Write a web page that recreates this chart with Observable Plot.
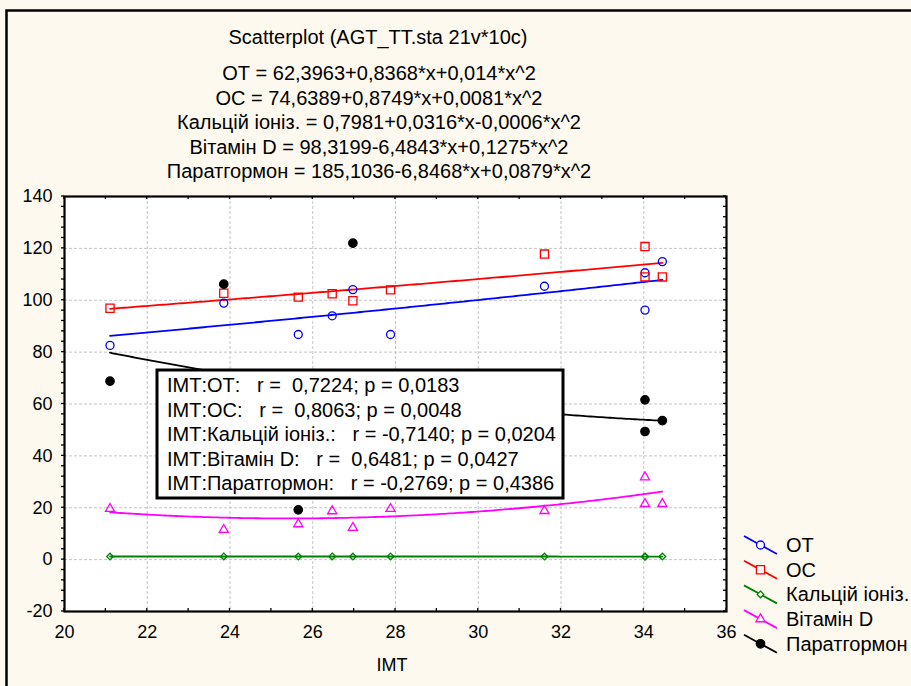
<!DOCTYPE html>
<html><head><meta charset="utf-8">
<script src="https://cdn.jsdelivr.net/npm/d3@7"></script>
<script src="https://cdn.jsdelivr.net/npm/@observablehq/plot@0.6"></script>
<style>
body{margin:0;background:#fdf9ee;}
#chart svg{display:block;}
</style>
</head><body><div id="chart"></div>
<script>
// ---- data ----
const imt   = [21.1, 23.85, 25.65, 26.47, 26.97, 27.88, 31.6, 34.03, 34.03, 34.45];
const ot    = [82.6, 98.9, 86.8, 94.0, 104.1, 86.8, 105.4, 96.2, 110.6, 114.9];
const oc    = [96.9, 102.7, 101.2, 102.5, 99.8, 104.0, 117.8, 120.7, 109.0, 109.0];
const ca    = [1.20, 1.22, 1.18, 1.25, 1.20, 1.22, 1.17, 1.15, 1.18, 1.20];
const vitD  = [19.6, 11.5, 13.7, 18.7, 12.3, 19.6, 18.8, 31.8, 21.5, 21.5];
const pth   = [68.8, 106.2, 19.2, 58, 122.0, 64, 47, 61.6, 49.4, 53.6];

const seriesNames = ["ОТ", "ОС", "Кальцій іоніз.", "Вітамін D", "Паратгормон"];
// quadratic fit coefficients as printed in the chart (a + b*x + c*x^2)
const coefOT   = [62.3963, 0.8368, 0.014];
const coefOC   = [74.6389, 0.8749, 0.0081];
const coefCa   = [0.7981, 0.0316, -0.0006];
const coefVitD = [98.3199, -6.4843, 0.1275];
const coefPTH  = [185.1036, -6.8468, 0.0879];

const titleText = "Scatterplot (AGT_TT.sta 21v*10c)";
const equations = [
  "ОТ = 62,3963+0,8368*x+0,014*x^2",
  "ОС = 74,6389+0,8749*x+0,0081*x^2",
  "Кальцій іоніз. = 0,7981+0,0316*x-0,0006*x^2",
  "Вітамін D = 98,3199-6,4843*x+0,1275*x^2",
  "Паратгормон = 185,1036-6,8468*x+0,0879*x^2"
];
const corrLines = [
  "ІМТ:ОТ:   r =  0,7224; p = 0,0183",
  "ІМТ:ОС:   r =  0,8063; p = 0,0048",
  "ІМТ:Кальцій іоніз.:   r = -0,7140; p = 0,0204",
  "ІМТ:Вітамін D:   r =  0,6481; p = 0,0427",
  "ІМТ:Паратгормон:   r = -0,2769; p = 0,4386"
];
const xTicks = [20, 22, 24, 26, 28, 30, 32, 34, 36];
const yTicks = [-20, 0, 20, 40, 60, 80, 100, 120, 140];
const xLabel = "ІМТ";

// ---- build ----
const values = [ot, oc, ca, vitD, pth];
const coefs = [coefOT, coefOC, coefCa, coefVitD, coefPTH];
const colors = ["#0000ff", "#ff0000", "#008000", "#ff00ff", "#000000"];
const symbols = ["circle", "square", "diamond2", "triangle", "circle"];
const radii = [4, 4.6, 3, 3.4, 4.2];
const fills = ["none", "none", "none", "none", "#000000"];

const xmin = d3.min(imt), xmax = d3.max(imt);
const fitX = d3.range(0, 201).map(i => xmin + (xmax - xmin) * i / 200);

const lineMarks = [], dotMarks = [];
values.forEach((vals, k) => {
  const [a, b, c] = coefs[k];
  const curve = fitX.map(x => ({x, y: a + b * x + c * x * x}));
  lineMarks.push(Plot.line(curve, {x: "x", y: "y", stroke: colors[k], strokeWidth: 1.8}));
  const pts = imt.map((x, i) => ({x, y: vals[i]}));
  dotMarks.push(Plot.dot(pts, {x: "x", y: "y", symbol: symbols[k], r: radii[k],
    stroke: colors[k], fill: fills[k], strokeWidth: 1.3}));
});

const plot = Plot.plot({
  width: 911, height: 686,
  marginLeft: 64, marginRight: 185, marginTop: 196, marginBottom: 75,
  style: {background: "#fdf9ee", fontFamily: "Arial, 'Liberation Sans', sans-serif", fontSize: "18px", color: "black"},
  x: {domain: [20, 36], ticks: xTicks, tickSize: 0, tickPadding: 14, label: null, tickFormat: d => String(d)},
  y: {domain: [-20, 140], ticks: yTicks, tickSize: 0, tickPadding: 12, label: null, tickFormat: d => String(d)},
  marks: [
    Plot.frame({fill: "white"}),
    Plot.ruleX(xTicks.slice(1, -1), {stroke: "#c4c4c4", strokeDasharray: "3,2", strokeWidth: 1}),
    Plot.ruleY(yTicks.slice(1, -1), {stroke: "#c4c4c4", strokeDasharray: "3,2", strokeWidth: 1}),
    ...lineMarks,
    ...dotMarks,
    Plot.frame({stroke: "black", strokeWidth: 2.2})
  ]
});
document.getElementById("chart").appendChild(plot);

const svg = d3.select(plot);
const sx = plot.scale("x"), sy = plot.scale("y");
const X0 = sx.apply(20), X1 = sx.apply(36), Y0 = sy.apply(-20), Y1 = sy.apply(140);

// minor ticks
const tg = svg.append("g").attr("stroke", "black").attr("stroke-width", 1.3);
d3.range(-20, 141, 4).forEach(v => {
  const y = sy.apply(v);
  tg.append("line").attr("x1", X0).attr("x2", X0 - 3).attr("y1", y).attr("y2", y);
  tg.append("line").attr("x1", X1).attr("x2", X1 - 3).attr("y1", y).attr("y2", y);
});
d3.range(20, 37, 1).forEach(v => {
  const x = sx.apply(v);
  tg.append("line").attr("x1", x).attr("x2", x).attr("y1", Y0).attr("y2", Y0 - 3);
  tg.append("line").attr("x1", x).attr("x2", x).attr("y1", Y1).attr("y2", Y1 + 3);
});

const font = "Arial, 'Liberation Sans', sans-serif";
// titles
const tt = svg.append("g").attr("font-family", font).attr("font-size", 20).attr("text-anchor", "middle").attr("fill", "black");
tt.append("text").attr("x", 378).attr("y", 44).text(titleText);
equations.forEach((s, i) => tt.append("text").attr("x", 379).attr("y", 80 + i * 24.5).text(s));

// x axis label
svg.append("text").attr("x", 392).attr("y", 671).attr("text-anchor", "middle")
  .attr("font-family", font).attr("font-size", 18).text(xLabel);

// correlation box
const bx = svg.append("g").attr("text-anchor", "start");
bx.append("rect").attr("x", 157).attr("y", 370).attr("width", 406).attr("height", 128)
  .attr("fill", "white").attr("stroke", "black").attr("stroke-width", 3);
corrLines.forEach((s, i) => bx.append("text").attr("x", 167).attr("y", 392 + i * 24.5)
  .attr("font-family", font).attr("font-size", 20).attr("xml:space", "preserve")
  .style("white-space", "pre").text(s));

// legend
const symMap = {circle: d3.symbolCircle, square: d3.symbolSquare, diamond2: d3.symbolDiamond2, triangle: d3.symbolTriangle};
const lg = svg.append("g").attr("text-anchor", "start");
seriesNames.forEach((name, k) => {
  const y = 545 + k * 24.7;
  lg.append("line").attr("x1", 744).attr("y1", y - 9).attr("x2", 777).attr("y2", y + 9)
    .attr("stroke", colors[k]).attr("stroke-width", 1.8);
  lg.append("path").attr("transform", `translate(760.5,${y})`)
    .attr("d", d3.symbol(symMap[symbols[k]], Math.PI * radii[k] * radii[k])())
    .attr("fill", fills[k] === "none" ? "white" : fills[k]).attr("stroke", colors[k]).attr("stroke-width", 1.3);
  lg.append("text").attr("x", 786).attr("y", y + 7).attr("font-family", font).attr("font-size", 20).text(name);
});

// outer window border (top and left)
svg.append("path").attr("d", "M6.5,686 V10.5 H911").attr("fill", "none").attr("stroke", "black").attr("stroke-width", 2.5);
</script>
</body></html>
